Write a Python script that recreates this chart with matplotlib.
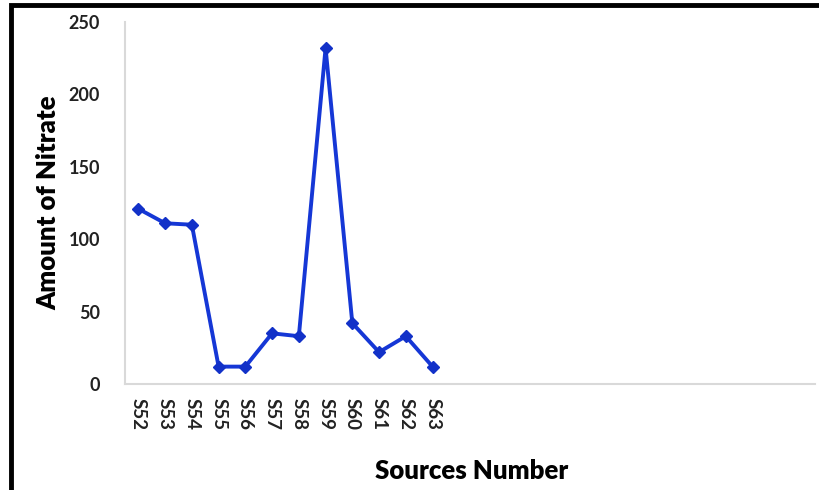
import matplotlib.pyplot as plt
from matplotlib.patches import Rectangle

# nitrate amount measured at each water source
sources = ['S52', 'S53', 'S54', 'S55', 'S56', 'S57', 'S58', 'S59', 'S60', 'S61', 'S62', 'S63']
nitrate = [121, 111, 110, 12, 12, 35, 33, 232, 42, 22, 33, 12]
y_ticks = [0, 50, 100, 150, 200, 250]

plt.rcParams['font.family'] = ['Lato', 'DejaVu Sans']

fig = plt.figure(figsize=(8.2, 4.9), dpi=100)
ax = fig.add_axes([125 / 820, 1 - 384 / 490, 690 / 820, 362 / 490])

x = list(range(len(sources)))
ax.plot(x, nitrate, color='#1537d6', linewidth=2.8, marker='D', markersize=6.5,
        markeredgecolor='#1231c8', markerfacecolor='#1231c8')

ax.set_ylim(0, 250)
ax.set_xlim(-0.5, 25.3)
ax.set_yticks(y_ticks)
ax.set_yticklabels([str(v) for v in y_ticks], fontsize=13, fontweight='bold', color='#222222')
ax.set_xticks(x)
ax.set_xticklabels(sources, rotation=-90, fontsize=13.5, fontweight='bold', color='#222222')
ax.tick_params(axis='y', length=0, pad=18)
ax.tick_params(axis='x', length=0, pad=10)

for side in ['top', 'right']:
    ax.spines[side].set_visible(False)
for side in ['left', 'bottom']:
    ax.spines[side].set_color('#d9d9d9')
    ax.spines[side].set_linewidth(1.5)

ax.set_ylabel('Amount of Nitrate', fontsize=18.5, fontweight='heavy', labelpad=6)
fig.text(472 / 820, 1 - 471 / 490, 'Sources Number', fontsize=18.5, fontweight='heavy',
         ha='center', va='center')

# black frame on the top and left edges
fig.add_artist(Rectangle((11 / 820, -0.05), 1.0, 1 - 5 / 490 + 0.05, transform=fig.transFigure,
                         fill=False, edgecolor='black', linewidth=3.5))

fig.savefig('out.png', dpi=100)
